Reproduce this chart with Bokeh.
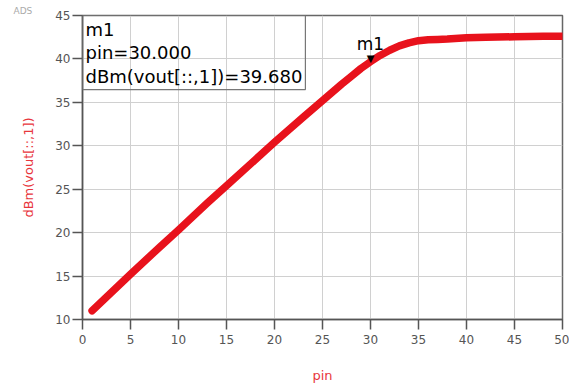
from bokeh.plotting import figure
from bokeh.models import Label, FixedTicker, Range1d, Title
from bokeh.core.properties import value
from bokeh.embed import file_html
from bokeh.resources import INLINE

pin = [1, 3, 5, 8, 10, 13, 15, 18, 20, 23, 25, 27, 28, 29, 30, 31, 32, 33, 34, 35, 36, 37, 38, 40, 42, 45, 48, 50]
vout = [11.0, 13.1, 15.2, 18.3, 20.3, 23.4, 25.4, 28.4, 30.4, 33.3, 35.2, 37.1, 38.0, 38.9, 39.68, 40.4, 41.0, 41.5, 41.85, 42.1, 42.2, 42.25, 42.3, 42.45, 42.5, 42.55, 42.6, 42.6]

marker_pin = 30.0
marker_val = 39.680
marker_name = "m1"

x_ticks = [0, 5, 10, 15, 20, 25, 30, 35, 40, 45, 50]
y_ticks = [10, 15, 20, 25, 30, 35, 40, 45]

FONT = "DejaVu Sans"
RED = "#e8121c"

p = figure(width=569, height=387, output_backend="svg", toolbar_location=None,
           x_range=Range1d(0, 50), y_range=Range1d(10, 45),
           min_border_left=82, min_border_right=7, min_border_top=15, min_border_bottom=68)
p.background_fill_color = "white"
p.border_fill_color = "white"
p.outline_line_color = "#666666"
p.outline_line_width = 1.5

for ax in (p.xaxis[0], p.yaxis[0]):
    ax.major_label_text_font = FONT
    ax.major_label_text_font_size = "12px"
    ax.major_label_text_color = "#555555"
    ax.axis_line_color = "#555555"
    ax.axis_line_width = 1.5
    ax.major_tick_line_color = "#555555"
    ax.major_tick_line_width = 1.5
    ax.major_tick_out = 10
    ax.major_tick_in = 0
    ax.minor_tick_line_color = None
    ax.axis_label_text_font = FONT
    ax.axis_label_text_font_style = "normal"
    ax.axis_label_text_font_size = "13px"
    ax.axis_label_text_color = "#e8363c"

p.xaxis[0].ticker = FixedTicker(ticks=x_ticks)
p.yaxis[0].ticker = FixedTicker(ticks=y_ticks)
p.xaxis[0].axis_label = "pin"
p.yaxis[0].axis_label = "dBm(vout[::,1])"
p.xaxis[0].axis_label_standoff = 21
p.yaxis[0].axis_label_standoff = 16
p.xaxis[0].major_label_standoff = 5
p.yaxis[0].major_label_standoff = 2

p.xgrid.ticker = FixedTicker(ticks=x_ticks)
p.ygrid.ticker = FixedTicker(ticks=y_ticks)
p.grid.grid_line_color = "#d0d0d0"
p.grid.grid_line_width = 1

p.line(pin, vout, line_color=RED, line_width=7.5, line_cap="round", line_join="round")

# marker
p.text([marker_pin], [marker_val], text=["▼"], text_align="center", text_baseline="bottom",
       text_font_size="10px", text_color="black", y_offset=2, text_font=value("DejaVu Sans"))
p.text([marker_pin], [marker_val], text=[marker_name], text_align="center", text_baseline="bottom",
       text_font_size="17px", text_color="black", y_offset=-8, text_font=value(FONT))

box_text = "%s\npin=%.3f\ndBm(vout[::,1])=%.3f" % (marker_name, marker_pin, marker_val)
p.add_layout(Label(x=0, y=45, text=box_text, anchor="top_left",
                   text_font=FONT, text_font_size="18px", text_color="black",
                   text_line_height=1.12,
                   border_line_color="#777777", border_line_width=1.2,
                   background_fill_color=None, padding=3))

p.add_layout(Title(text="ADS", align="left", offset=-69, standoff=0,
                   text_font=FONT, text_font_size="9px", text_font_style="normal",
                   text_color="#aaaaaa"), "above")

open("out.html", "w").write(file_html(p, INLINE))
